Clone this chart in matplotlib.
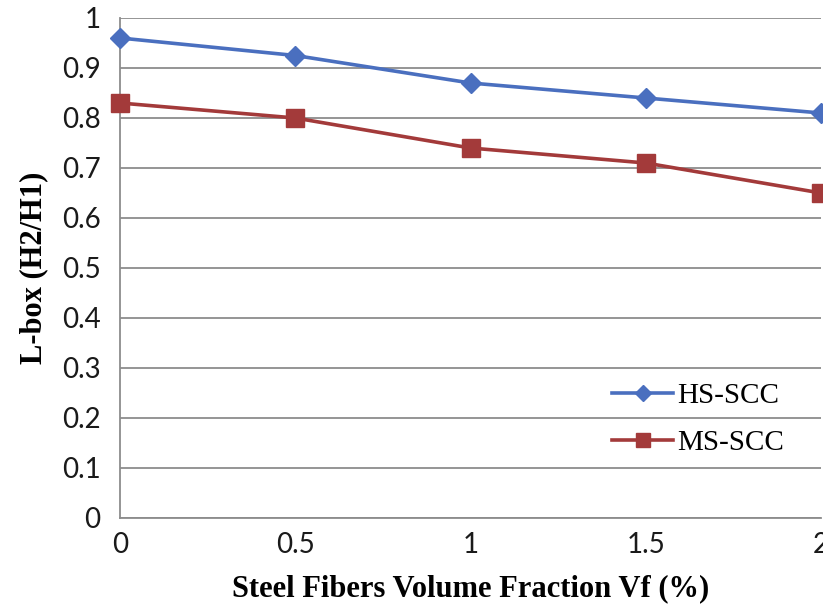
import matplotlib
matplotlib.use("Agg")
import matplotlib.pyplot as plt
from matplotlib.transforms import Affine2D

# Steel fibre volume fraction (%) and L-box passing ratio H2/H1
vf = [0, 0.5, 1, 1.5, 2]
hs_scc = [0.96, 0.925, 0.87, 0.84, 0.81]
ms_scc = [0.83, 0.80, 0.74, 0.71, 0.65]
yticks = [0, 0.1, 0.2, 0.3, 0.4, 0.5, 0.6, 0.7, 0.8, 0.9, 1]
ytick_labels = ["0", "0.1", "0.2", "0.3", "0.4", "0.5", "0.6", "0.7", "0.8", "0.9", "1"]
xticks = [0, 0.5, 1, 1.5, 2]
xtick_labels = ["0", "0.5", "1", "1.5", "2"]

W, H = 823, 609
fig = plt.figure(figsize=(W / 100, H / 100), dpi=100)
ax = fig.add_axes([120 / W, 1 - 518 / H, 701 / W, 500 / H])

blue = "#4a6fbf"
red = "#a33a3a"
grid = "#8c8c8c"

ax.plot(vf, hs_scc, color=blue, lw=2.6, marker="D", ms=10, mfc=blue, mec=blue,
        label="HS-SCC", clip_on=False, zorder=3)
ax.plot(vf, ms_scc, color=red, lw=2.6, marker="s", ms=13, mfc=red, mec=red,
        label="MS-SCC", clip_on=False, zorder=3)

ax.set_xlim(0, 2)
ax.set_ylim(0, 1)
ax.set_yticks(yticks)
ax.set_yticklabels(ytick_labels)
ax.set_xticks(xticks)
ax.set_xticklabels(xtick_labels)
ax.yaxis.grid(True, color=grid, lw=1.3)
ax.set_axisbelow(True)

for s in ["top", "right"]:
    ax.spines[s].set_visible(False)
for s in ["left", "bottom"]:
    ax.spines[s].set_color(grid)
    ax.spines[s].set_linewidth(1.3)

ax.tick_params(axis="both", length=0, labelsize=20, colors="#1a1a1a")
ax.tick_params(axis="y", pad=14)
ax.tick_params(axis="x", pad=10)
for lab in ax.get_xticklabels() + ax.get_yticklabels():
    lab.set_family("Lato")

ax.set_xlabel("Steel Fibers Volume Fraction Vf (%)", family="Liberation Serif",
              fontweight="bold", fontsize=22, labelpad=12)
ax.set_ylabel("L-box (H2/H1)", family="Liberation Serif", fontweight="bold",
              fontsize=22, labelpad=10)

# legend placed in figure pixel coordinates (origin top-left)
to_fig = Affine2D().scale(1 / W, -1 / H).translate(0, 1) + fig.transFigure
leg = ax.legend(loc="upper left", bbox_to_anchor=(612, 383), bbox_transform=to_fig,
                frameon=False, borderpad=0, borderaxespad=0,
                prop={"family": "Liberation Serif", "size": 21},
                handlelength=2.1, labelspacing=0.70, handletextpad=0.15,
                markerscale=0.8)

fig.savefig("out.png", dpi=100)
